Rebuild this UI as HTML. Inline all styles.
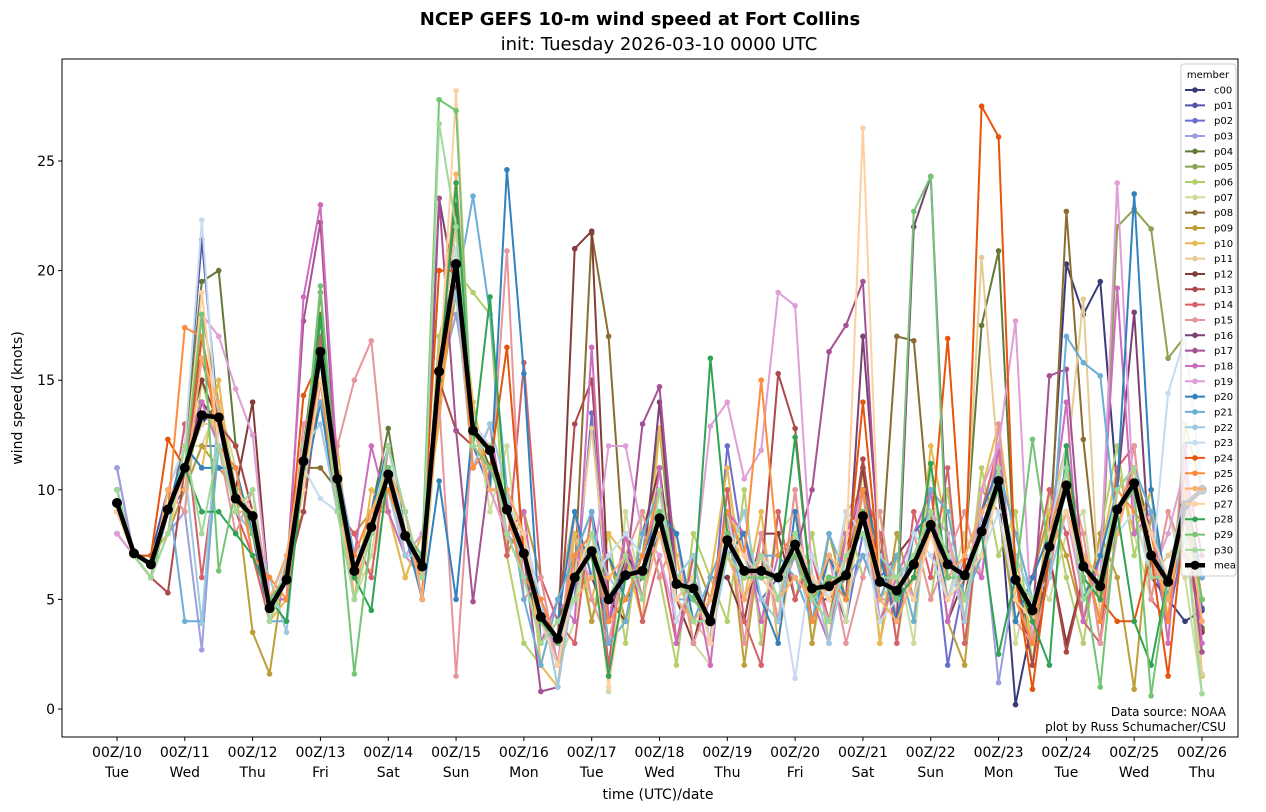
<!DOCTYPE html>
<html><head><meta charset="utf-8">
<style>
body{margin:0;background:#fff;}
svg{display:block;font-family:"DejaVu Sans","Liberation Sans",sans-serif;}
</style></head>
<body>
<svg id="chart" width="1266" height="812" viewBox="0 0 1266 812" xmlns="http://www.w3.org/2000/svg">
<defs><clipPath id="legclip"><rect x="1181" y="64" width="55" height="512"/></clipPath></defs>
<rect width="1266" height="812" fill="#fff"/>
<text x="640" y="25" font-size="18" font-weight="bold" text-anchor="middle">NCEP GEFS 10-m wind speed at Fort Collins</text>
<text x="659" y="50" font-size="18" text-anchor="middle">init: Tuesday 2026-03-10 0000 UTC</text>
<g id="plot"></g>
<rect x="62" y="59" width="1176" height="678" fill="none" stroke="#000" stroke-width="1"/>
<g id="xaxis"></g>
<g id="yaxis"></g>
<text x="658" y="799" font-size="14" text-anchor="middle">time (UTC)/date</text>
<text x="22" y="398" font-size="14" text-anchor="middle" transform="rotate(-90 22 398)">wind speed (knots)</text>
<text x="1226" y="716" font-size="12" text-anchor="end">Data source: NOAA</text>
<text x="1226" y="731" font-size="12" text-anchor="end">plot by Russ Schumacher/CSU</text>
<g id="legend"></g>
</svg>
<script>
const dayLabels=["Tue","Wed","Thu","Fri","Sat","Sun","Mon","Tue","Wed","Thu","Fri","Sat","Sun","Mon","Tue","Wed","Thu"];
const dateLabels=["00Z/10","00Z/11","00Z/12","00Z/13","00Z/14","00Z/15","00Z/16","00Z/17","00Z/18","00Z/19","00Z/20","00Z/21","00Z/22","00Z/23","00Z/24","00Z/25","00Z/26"];
const yTicks=[0,5,10,15,20,25];
const memberNames=["c00","p01","p02","p03","p04","p05","p06","p07","p08","p09","p10","p11","p12","p13","p14","p15","p16","p17","p18","p19","p20","p21","p22","p23","p24","p25","p26","p27","p28","p29","p30"];
const memberColors=["#393b79","#5254a3","#6b6ecf","#9c9ede","#637939","#8ca252","#b5cf6b","#cedb9c","#8c6d31","#bd9e39","#e7ba52","#e7cb94","#843c39","#ad494a","#d6616b","#e7969c","#7b4173","#a55194","#ce6dbd","#de9ed6","#3182bd","#6baed6","#9ecae1","#c6dbef","#e6550d","#fd8d3c","#fdae6b","#fdd0a2","#31a354","#74c476","#a1d99b"];
const meanValues=[9.4,7.1,6.6,9.1,11,13.4,13.3,9.6,8.8,4.6,5.9,11.3,16.3,10.5,6.3,8.3,10.7,7.9,6.5,15.4,20.3,12.7,11.8,9.1,7.1,4.2,3.2,6.0,7.2,5.0,6.1,6.3,8.7,5.7,5.5,4.0,7.7,6.3,6.3,6.0,7.5,5.5,5.6,6.1,8.8,5.8,5.4,6.6,8.4,6.6,6.1,8.1,10.4,5.9,4.5,7.4,10.2,6.5,5.6,9.1,10.3,7.0,5.8,9.3,10.0];
const c00=[9,7,7,9,11,13,14,10,8,5,6,11,15,10,6,8,11,8,7,15,20,12,11,9,7,4,3,6,7,5,6,6,9,6,5,4,8,6,6,6,7,5,5,6,9,6,5,6,8,6,6,8,10,0.2,4,8,20.3,18,19.5,10,11,7,5,4,4.5];
const p01=[10,7,7,10,12,21.4,13,9,8,4,6,12,14,10,7,8,11,8,6,16,22,13,12,8,6,4,2,7,9,5,7,5,9,5,6,4,9,7,6,5,8,6,5,7,10,5,6,7,9,7,5,7,11,5,3,7,9,6,5,9,10,8,6,9,4.6];
const p02=[11,7,6,9,10,12,12,10,9,5,6,10,14,11,7,9,10,7,6,17,19,12,10,10,8,5,3,5,13.5,4,6,6,8,5,4,3,12,7,5,6,6,5,6,4,8,6,7,5,9,2,6,9,12,5,4,8,11,7,5,10,11,7,4,8,5];
const p03=[11,7,7,8,9,2.7,13,9,9,5,5,11,14,11,6,8,11,8,6,15,18,13,12,8,7,4,3,6,7,4,6,7,10,5,5,4,7,6,6,5,7,4,6,5,7,5,5,6,8,7,6,9,1.2,6,3,7,11,6,5,9,10,7,6,9,6];
const p04=[10,7,6,9,12,19.5,20,12,9,5,6,12,18,11,7,9,12.8,8,7,16,23,13,11,9,7,3,4,6,7,6,5,6,8,6,5,4,8,6,7,5,8,6,5,6,9,7,5,7,9,6,7,17.5,20.9,6,3,7,10,6,5,9,11,8,4,10,3.7];
const p05=[9,7,6,9,11,18,14,10,9,4,6,11,19,10,6,8,10,7,6,15,21,12,12,9,7,5,3,6,8,5,6,7,12.8,5,6,4,7,6,6,6,8,5,6,6,9,5,6,7,8,6,7,9,11,6,4,7,10,7,5,22,22.8,21.9,16,17,10];
const p06=[9,7,6,10,9,15,12,9,8,5,6,10,17,11,7,9,10,7,6,17,20,19,18,7,3,2,5,9,4,8,3,9,6,2,8,6,4,10,3,9,5,8,3,9,6,9,3,8,5,10,4,11,7,9,2,10,6,3,8,12,7,10,3,13,10];
const p07=[8,7,6,8,12,12,14,11,7,4,7,12,14,9,5,7,12,9,5,14,19,14,9,12,5,6,2,4,9,0.8,9,5,10,8,3,2,10,7,4,8,9,3,7,4,10,4,7,3,11,5,8,6,12,3,6,5,8,9,3,11,8,5,9,6,0.7];
const p08=[8,7,6,9,11,14,13,10,8,5,6,11,11,10,6,8,11,8,7,15,20,12,11,9,7,4,3,6,21.7,17,6,6,9,6,5,4,8,6,6,6,7,5,6,6,9,6,17,16.8,8,6,6,8,10,6,4,7,22.7,12.3,5,9,10,7,6,9,3.6];
const p09=[8,7,6,8,10,12,11,10,3.5,1.6,7,9,16,9,8,9,9,6,8,14,19,11,13,7,9,6,2,8,4,7,4,8,11,3,7,5,9,2,8,4,10,3,8,5,11,3,8,5,10,4,2,10,9,4,6,9,7,4,8,6,0.9,9,4,11,1.5];
const p10=[9,7,7,8,12,11,15,9,10,4,5,12,16,12,5,10,9,6,8,13,21,14,10,8,9,2,1,8,5,8,7,4,12.8,7,3,6,11,5,9,3,8,6,4,9,10,3,7,4,12,8,5,10,13,7,3,9,12,4,7,11,8,10,4,12,1.5];
const p11=[9,7,7,9,11,13,13,10,9,5,6,11,15,11,6,6.3,10,8,6,16,22,12,11,9,7,4,3,6,12.8,5,7,5,10,5,4,3,9,5,7,4,8,4,7,5,10,5,6,7,9,5,7,20.6,11,5,3,8,11,18.7,4,8,11,6,7,8,1.6];
const p12=[9,7,6,9,12,15,13,10,14,5,6,11,15,10,6,8,11,8,7,15,20,12,11,9,7,4,3,21,21.8,5,4,8,11,5,3,6,6,4,8,8,5,7,4,7,11,5,7,8,10,4,6,8,10,6,2,7,3,6,5,9,10,7,6,9,3.5];
const p13=[10,7,6,5.3,11,14,13,12,9,4,6,9,15,10,6,8,11,8,7,15,12.7,12,11,9,7,4,3,13,15,5,6,6,9,6,5,4,8,6,6,15.3,12.8,5,6,6,11.4,6,5,6,8,6,6,8,10,6,2,7,2.6,6,5,9,11,7,6,9,5];
const p14=[9,7,6,8,13,6,12,9,7,4,6,11,17,9,8,6,12,9,5,16,19,11,12,7,15.8,6,4,3,9,2,8,4,7,3,7,3,10,4,2,9,5,7,4,8,10,8,3,9,6,11,3,9,12,4,6,10,8,4,3,11,12,5,4,11,7];
const p15=[9,7,6,10,9,17,12,8,10,5,5,13,14,12,15,16.8,9,7,6,14,1.5,13,10,20.9,5,6,2,9,5,3,7,9,6,8,3,5,9,3,8,4,10,4,7,3,6,9,4,8,5,7,9,6,13,4,3,6,11,8,3,8,12,5,9,7,4];
const p16=[9,7,6,9,11,14,13,10,8,5,5,12,15,9,7,8,12,9,5,23.3,19,13,10,10,6,5,2,7,6,4,7,6,14,5,6,3,9,5,7,5,8,4,7,5,17,7,4,22,24.3,7,5,9,11,5,3,8,9,7,4,10,18.1,6,5,10,6];
const p17=[9,7,6,9,11,16,13,10,8,5,6,17.7,22.2,10,6,8,11,8,7,23.3,12.7,4.9,11,9,7,0.8,1,6,7,5,6,13,14.7,6,5,4,8,6,6,6,7,10,16.3,17.5,19.5,6,5,6,8,6,6,8,10,6,4,15.2,15.5,6,5,9,10,7,6,9,2.6];
const p18=[8,7,6,9,12,14,12,11,7,5,5,18.8,23,11,7,12,9,7,8,14,21,11,13,8,9,3,5,4,16.5,4,8,5,11,3,6,2,9,8,4,7,8,5,3,8,10,4,6,8,10,4,7,6,12,5,3,8,14,4,7,19.2,8,9,3,12,3];
const p19=[8,7,6,9,11,18,17,14.6,12.5,5,7,12,16,9,7,9,11,7,8,14,21,13,10,8,6,5,2,7,6,12,12,8,7,4,6,12.9,14,10.5,11.8,19,18.4,6,4,7,10,5,7,5,9,8,4,10,12,17.7,3,8,9,5,6,24,9,6,8,11,4];
const p20=[10,7,6,9,12,11,11,11,8,5,7,10,14,9,5,9,12,8,5,10.4,5,13,10,24.6,15.3,3,4,9,6,7,5,7,9,8,4,5,7,8,5,3,9,4,7,5,10,7,4,8,9,5,7,9,11,4,6,8,11,5,7,10,23.5,10,5,10,6];
const p21=[9,7,6,10,4,4,12,9,9,4,4,12,14,11,7,8,12,9,6,16,19,23.4,18,10,5,2,5,7,9,3,4,8,10,5,4,6,8,5,7,7,6,4,8,6,7,5,7,4,10,9,5,7,11,8,5,6,17,15.8,15.2,8,11,9,5,8,6];
const p22=[9,7,6,8,11,3.9,14,9,8,6,3.5,12,13,9,5,9,10,7,7,16,19,11,13,10,6,5,1,6,8,6,5,7,8,6,7,3,7,9,5,4,8,6,3,7,8,7,6,5,9,7,4,9,10,7,5,6,9,7,4,10,9,8,6,10,4];
const p23=[9,7,6,10,12,22.3,12,9,9,4,7,11,9.6,9,7,8,12,8,6,14,21,13,12,8,8,5,3,5,6,7,8,7,10,4,6,3,9,5,7,6,1.4,7,5,9,8,4,5,8,7,5,7,7,9,5,3,8,12,5,6,8,9,6,14.4,17,10];
const p24=[10,7,7,12.3,11,17,13,10,8,5,6,14.3,16,10,6,8,11,8,7,20,20,12,11,16.5,7,4,3,6,7,5,6,6,9,6,5,4,8,6,6,6,7,5,6,6,14,6,5,6,8,16.9,6,27.5,26.1,6,0.9,7,10,6,5,4,4,7,1.5,9,5];
const p25=[9,7,6,9,17.4,17,12,11,7,6,5,11,15,9,7,9,10,8,6,14,20,11,12,9,6,5,3,7,8,4,5,7,10,6,4,5,9,7,15,7,8,4,6,5,10,6,6,7,9,7,5,8,11,5,3,8,11,7,4,10,9,8,4,10,5];
const p26=[9,7,6,10,10,16,14,9,9,5,7,12,16,10,5,9,11,9,5,16,24.4,13,10,10,8,3,4,5,6,6,7,5,8,5,4,5,7,5,7,5,6,5,7,6,9,5,4,6,8,6,7,9,10,6,5,7,9,7,6,8,11,7,5,9,4];
const p27=[9,7,6,8,11,19,12,10,9,4,6,10,15,11,6,8,11,8,7,15,28.2,12,11,9,8,4,2,6,8,1,6,6,9,5,6,3,8,7,6,5,8,6,5,7,26.5,6,6,5,8,5,6,7,10,5,4,8,9,6,5,9,10,8,6,8,5];
const p28=[10,7,6,9,11,9,9,8,7,5,4,11,17.8,10,6,4.5,11,8,7,15,24,12,18.8,9,7,4,3,6,7,1.5,6,6,9,6,5,16,8,6,6,6,12.4,5,6,6,9,6,5,6,11.2,6,6,8,2.5,6,4,2,12,6,5,9,4,2,6,9,5];
const p29=[10,7,6,9,11,18,6.3,10,8,5,6,11,19.3,10,1.6,8,11,8,7,27.8,27.3,12,11,9,7,4,3,6,7,5,6,6,9,6,5,4,8,6,6,6,7,5,6,6,9,6,5,22.7,24.3,6,6,8,10,6,12.3,7,10,6,1,9,10,0.6,6,9,5];
const p30=[10,7,6,8,12,8,12,9,10,4,6,12,16,9,5,8,12,9,6,26.7,22,12,12,8,6,3,4,5,8,5,7,5,10,6,4,4,7,6,7,5,8,5,4,7,8,6,6,7,9,7,5,8,11,6,5,7,11,5,6,10,11,6,6,8,0.7];
const memberData=[c00,p01,p02,p03,p04,p05,p06,p07,p08,p09,p10,p11,p12,p13,p14,p15,p16,p17,p18,p19,p20,p21,p22,p23,p24,p25,p26,p27,p28,p29,p30];

const NS="http://www.w3.org/2000/svg";
const X0=117, DAYPX=(1202-117)/16, Y0=709, KPX=(709-161)/25;
function xScale(i){return X0+i*DAYPX/4;}
function yScale(v){return Y0-v*KPX;}
function mk(tag,attrs,parent){const e=document.createElementNS(NS,tag);for(const k in attrs)e.setAttribute(k,attrs[k]);parent.appendChild(e);return e;}

const plot=document.getElementById('plot');
memberData.forEach((arr,m)=>{
  const g=mk('g',{},plot);
  
  
  const pts=arr.map((v,i)=>xScale(i).toFixed(1)+','+yScale(v).toFixed(1)).join(' ');
  const pl=mk('polyline',{points:pts,fill:'none',stroke:memberColors[m],'stroke-width':2,'stroke-linejoin':'round'},g);
  
  
  arr.forEach((v,i)=>{
    const c=mk('circle',{cx:xScale(i),cy:yScale(v),r:2.8,fill:memberColors[m]},g);
    
    
  });
});
const mg=mk('g',{},plot);


const mpl=mk('polyline',{points:meanValues.map((v,i)=>xScale(i).toFixed(1)+','+yScale(v).toFixed(1)).join(' '),fill:'none',stroke:'#000','stroke-width':4.5,'stroke-linejoin':'round'},mg);


meanValues.forEach((v,i)=>{
  const c=mk('circle',{cx:xScale(i),cy:yScale(v),r:5,fill:'#000'},mg);
  
  
});

const xa=document.getElementById('xaxis');
dateLabels.forEach((d,k)=>{
  const x=X0+k*DAYPX;
  const t=mk('line',{x1:x,x2:x,y1:737,y2:741,stroke:'#000'},xa);
  
  
  const l=mk('text',{x:x,y:757,'font-size':14,'text-anchor':'middle'},xa);
  l.textContent=d;
  
  
  const l2=mk('text',{x:x,y:777,'font-size':14,'text-anchor':'middle'},xa);
  l2.textContent=dayLabels[k];
  
  
});
const ya=document.getElementById('yaxis');
yTicks.forEach(v=>{
  const y=yScale(v);
  const t=mk('line',{x1:58,x2:62,y1:y,y2:y,stroke:'#000'},ya);
  
  
  const l=mk('text',{x:55,y:y+5,'font-size':14,'text-anchor':'end'},ya);
  l.textContent=v;
  
  
});

const lg=document.getElementById('legend');
const box=mk('rect',{x:1181,y:64,width:55,height:512,rx:3,fill:'#fff','fill-opacity':0.8,stroke:'#ccc'},lg);


const lt=mk('text',{x:1208,y:78,'font-size':10,'text-anchor':'middle'},lg);
lt.textContent='member';


const legNames=memberNames.concat(['mean']);
const legColors=memberColors.concat(['#000']);
const inner=mk('g',{'clip-path':'url(#legclip)'},lg);
legNames.forEach((n,k)=>{
  const y=90+k*15.33;
  const g=mk('g',{},inner);
  
  
  const isMean=n==='mean';
  mk('line',{x1:1185,x2:1205,y1:y,y2:y,stroke:legColors[k],'stroke-width':isMean?4.5:2},g);
  mk('circle',{cx:1195,cy:y,r:isMean?4.5:2.8,fill:legColors[k]},g);
  const t=mk('text',{x:1214,y:y+3.5,'font-size':10},g);
  t.textContent=n;
});
</script>
</body></html>
